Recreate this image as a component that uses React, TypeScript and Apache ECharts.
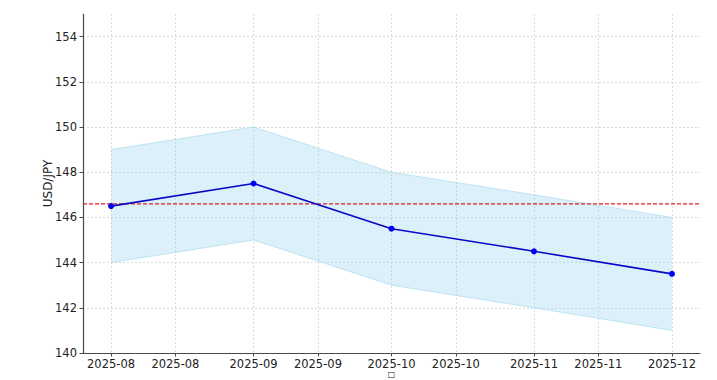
import React, { useEffect, useRef } from "react";
import * as echarts from "echarts";

const months = ["2025-08-01", "2025-09-01", "2025-10-01", "2025-11-01", "2025-12-01"];
const forecast = [146.5, 147.5, 145.5, 144.5, 143.5];
const upperBand = [149, 150, 148, 147, 146];
const lowerBand = [144, 145, 143, 142, 141];
const referenceRate = 146.6;
const xTickDates = [
  "2025-08-01", "2025-08-15", "2025-09-01", "2025-09-15", "2025-10-01",
  "2025-10-15", "2025-11-01", "2025-11-15", "2025-12-01",
];
const yTicks = [140, 142, 144, 146, 148, 150, 152, 154];
const yLabel = "USD/JPY";
const xLabel = "□";

const toMs = (s: string) => {
  const [y, m, d] = s.split("-").map(Number);
  return Date.UTC(y, m - 1, d);
};

export default function App() {
  const ref = useRef<HTMLDivElement>(null);
  useEffect(() => {
    if (!ref.current) return;
    const chart = echarts.init(ref.current, undefined, { renderer: "svg" });
    const xs = months.map(toMs);
    const span = xs[xs.length - 1] - xs[0];
    const xMin = xs[0] - span * 0.05;
    const xMax = xs[xs.length - 1] + span * 0.05;
    const tickMs = xTickDates.map(toMs);
    const font = "DejaVu Sans";
    const axisColor = "#4a4a4a";
    const gridStyle = { color: "#d2d2d2", type: [2, 2] as any, width: 0.8 };
    const bandData = xs.map((x, i) => [x, lowerBand[i], upperBand[i]]);
    chart.setOption({
      animation: false,
      textStyle: { fontFamily: font },
      grid: { left: 83, right: 17, top: 14, bottom: 27, outerBoundsMode: "none", containLabel: false },
      xAxis: {
        type: "value",
        min: xMin,
        max: xMax,
        name: xLabel,
        nameLocation: "middle",
        nameGap: 17,
        nameMoveOverlap: false,
        nameTextStyle: { fontSize: 8, color: "#222", fontFamily: font },
        axisLine: { lineStyle: { color: axisColor, width: 1.2 } },
        axisTick: { show: true, customValues: tickMs, length: 3.5, inside: false, lineStyle: { color: axisColor } },
        axisLabel: {
          customValues: tickMs,
          formatter: (v: number) => {
            const d = new Date(v);
            return d.getUTCFullYear() + "-" + String(d.getUTCMonth() + 1).padStart(2, "0");
          },
          fontSize: 11.5,
          color: "#222",
          margin: 5,
          fontFamily: font,
          hideOverlap: false,
        },
        splitLine: { show: true, lineStyle: gridStyle },
      },
      yAxis: {
        type: "value",
        min: 140,
        max: 155,
        name: yLabel,
        nameLocation: "middle",
        nameGap: 29,
        nameMoveOverlap: false,
        nameRotate: 90,
        nameTextStyle: { fontSize: 12, color: "#222", fontFamily: font },
        axisLine: { show: true, lineStyle: { color: axisColor, width: 1.2 } },
        axisTick: { show: true, customValues: yTicks, length: 3.5, lineStyle: { color: axisColor } },
        axisLabel: { customValues: yTicks, fontSize: 11.5, color: "#222", margin: 6, fontFamily: font },
        splitLine: { show: true, lineStyle: gridStyle },
      },
      series: [
        {
          type: "custom",
          name: "band",
          silent: true,
          z: 1,
          data: bandData,
          encode: { x: 0, y: [1, 2] },
          renderItem: (params: any, api: any) => {
            if (params.dataIndex !== 0) return null;
            const top = bandData.map((d) => api.coord([d[0], d[2]]));
            const bottom = bandData.map((d) => api.coord([d[0], d[1]])).reverse();
            return {
              type: "group",
              children: [
                {
                  type: "polygon",
                  shape: { points: top.concat(bottom) },
                  style: { fill: "rgba(135,206,235,0.3)", stroke: "none" },
                },
                {
                  type: "polyline",
                  shape: { points: top },
                  style: { fill: "none", stroke: "rgba(135,206,235,0.45)", lineWidth: 1 },
                },
                {
                  type: "polyline",
                  shape: { points: bottom },
                  style: { fill: "none", stroke: "rgba(135,206,235,0.45)", lineWidth: 1 },
                },
              ],
            };
          },
        },
        {
          type: "line",
          name: "reference",
          data: [[xMin, referenceRate], [xMax, referenceRate]],
          symbol: "none",
          silent: true,
          lineStyle: { color: "#e02020", type: [4, 2] as any, width: 1.1 },
          itemStyle: { color: "#e02020" },
          z: 2,
        },
        {
          type: "line",
          name: "forecast",
          data: xs.map((x, i) => [x, forecast[i]]),
          symbol: "circle",
          symbolSize: 6,
          lineStyle: { color: "#0808c8", width: 1.6 },
          itemStyle: { color: "#0000f0" },
          z: 3,
        },
      ],
    });
    return () => chart.dispose();
  }, []);
  return <div ref={ref} style={{ width: 717, height: 380, position: "absolute", left: 0, top: 0 }} />;
}
